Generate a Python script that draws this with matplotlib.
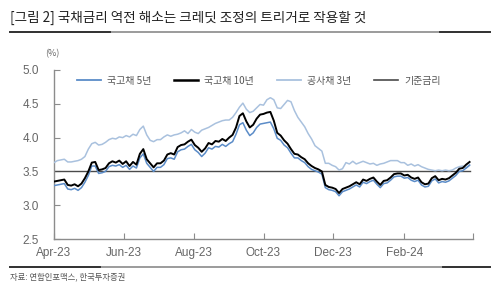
import matplotlib
matplotlib.use("Agg")
import matplotlib.pyplot as plt
from matplotlib.lines import Line2D
import pandas as pd

plt.rcParams['font.family'] = ['Noto Sans CJK KR', 'DejaVu Sans']

# ---- data (3-day sampling) ----
dates = pd.date_range('2023-04-01', periods=122, freq='3D')

ktb10 = [3.35, 3.36, 3.37, 3.38, 3.30, 3.29, 3.31, 3.28, 3.32, 3.40,
         3.50, 3.63, 3.64, 3.52, 3.53, 3.55, 3.62, 3.65, 3.63, 3.66,
         3.61, 3.65, 3.58, 3.64, 3.60, 3.76, 3.83, 3.68, 3.62, 3.56,
         3.62, 3.62, 3.66, 3.75, 3.77, 3.75, 3.86, 3.89, 3.90, 3.94,
         3.97, 3.89, 3.85, 3.79, 3.84, 3.92, 3.90, 3.95, 3.94, 3.98,
         3.95, 4.00, 4.04, 4.15, 4.32, 4.36, 4.24, 4.15, 4.19, 4.28,
         4.34, 4.35, 4.37, 4.38, 4.25, 4.07, 4.03, 3.96, 3.91, 3.83,
         3.76, 3.75, 3.71, 3.68, 3.62, 3.58, 3.55, 3.53, 3.50, 3.30,
         3.27, 3.26, 3.24, 3.18, 3.24, 3.26, 3.28, 3.31, 3.34, 3.31,
         3.38, 3.36, 3.39, 3.41, 3.35, 3.30, 3.36, 3.37, 3.41, 3.46,
         3.47, 3.47, 3.44, 3.45, 3.41, 3.39, 3.41, 3.34, 3.31, 3.32,
         3.40, 3.43, 3.37, 3.39, 3.38, 3.40, 3.44, 3.48, 3.54, 3.55,
         3.60, 3.64]

ktb5 = [3.29, 3.30, 3.31, 3.32, 3.24, 3.23, 3.25, 3.22, 3.26, 3.34,
        3.44, 3.58, 3.58, 3.47, 3.48, 3.50, 3.57, 3.59, 3.58, 3.60,
        3.56, 3.59, 3.53, 3.58, 3.55, 3.70, 3.76, 3.62, 3.56, 3.50,
        3.56, 3.56, 3.60, 3.69, 3.70, 3.68, 3.79, 3.82, 3.83, 3.87,
        3.90, 3.82, 3.78, 3.72, 3.77, 3.85, 3.83, 3.87, 3.86, 3.90,
        3.87, 3.91, 3.94, 4.05, 4.19, 4.22, 4.11, 4.03, 4.07, 4.15,
        4.20, 4.21, 4.22, 4.23, 4.13, 3.99, 3.96, 3.89, 3.85, 3.77,
        3.70, 3.70, 3.66, 3.63, 3.57, 3.53, 3.51, 3.49, 3.46, 3.26,
        3.23, 3.22, 3.20, 3.14, 3.20, 3.22, 3.24, 3.27, 3.30, 3.27,
        3.34, 3.32, 3.35, 3.37, 3.31, 3.26, 3.32, 3.33, 3.37, 3.42,
        3.43, 3.43, 3.40, 3.41, 3.37, 3.35, 3.37, 3.30, 3.27, 3.28,
        3.36, 3.39, 3.33, 3.35, 3.34, 3.36, 3.40, 3.44, 3.50, 3.51,
        3.55, 3.59]

kepco3 = [3.63, 3.66, 3.67, 3.68, 3.64, 3.64, 3.65, 3.66, 3.68, 3.72,
          3.83, 3.91, 3.93, 3.89, 3.90, 3.93, 3.97, 3.99, 3.98, 4.01,
          4.00, 4.03, 4.01, 4.05, 4.03, 4.12, 4.17, 4.04, 3.96, 3.94,
          3.97, 3.97, 4.01, 4.04, 4.02, 4.04, 4.05, 4.07, 4.10, 4.06,
          4.12, 4.08, 4.06, 4.11, 4.13, 4.15, 4.18, 4.21, 4.23, 4.25,
          4.26, 4.26, 4.30, 4.37, 4.45, 4.51, 4.42, 4.37, 4.39, 4.44,
          4.49, 4.48, 4.56, 4.59, 4.56, 4.44, 4.43, 4.49, 4.55, 4.53,
          4.40, 4.30, 4.23, 4.16, 4.06, 3.98, 3.88, 3.84, 3.80, 3.62,
          3.62, 3.59, 3.57, 3.52, 3.54, 3.63, 3.61, 3.65, 3.61, 3.63,
          3.65, 3.63, 3.61, 3.62, 3.59, 3.61, 3.62, 3.64, 3.66, 3.66,
          3.66, 3.63, 3.63, 3.59, 3.61, 3.58, 3.60, 3.57, 3.55, 3.53,
          3.52, 3.51, 3.52, 3.51, 3.52, 3.51, 3.52, 3.55, 3.57, 3.58,
          3.55, 3.60]

base_rate_level = 3.5
base_rate = [base_rate_level for _ in dates]

series_names = ['국고채 5년', '국고채 10년', '공사채 3년', '기준금리']
y_ticks = [2.5, 3.0, 3.5, 4.0, 4.5, 5.0]
x_tick_dates = ['2023-04-01', '2023-06-01', '2023-08-01', '2023-10-01',
                '2023-12-01', '2024-02-01', '2024-04-01']

title = '[그림 2] 국채금리 역전 해소는 크레딧 조정의 트리거로 작용할 것'
source = '자료: 연합인포맥스, 한국투자증권'

# ---- figure ----
fig = plt.figure(figsize=(5.0, 2.88), dpi=100)
ax = fig.add_axes([0.108, 0.170, 0.838, 0.587])

c5 = '#5b8cc8'
c10 = '#000000'
ck = '#a9c1de'
cb = '#4a4a4a'

ax.plot(dates, base_rate, color=cb, lw=1.0, zorder=2)
ax.plot(dates, kepco3, color=ck, lw=1.1, zorder=3)
ax.plot(dates, ktb5, color=c5, lw=1.1, zorder=4)
ax.plot(dates, ktb10, color=c10, lw=1.4, zorder=5)

ax.set_ylim(2.5, 5.0)
ax.set_yticks(y_ticks)
ax.set_yticklabels([f'{v:.1f}' for v in y_ticks])
ax.set_xlim(pd.Timestamp('2023-04-01'), pd.Timestamp('2024-04-01'))
xt = [pd.Timestamp(d) for d in x_tick_dates]
ax.set_xticks(xt)
ax.set_xticklabels([d.strftime('%b-%y') if i < len(xt) - 1 else '' for i, d in enumerate(xt)])

for s in ['top', 'right']:
    ax.spines[s].set_visible(False)
for s in ['left', 'bottom']:
    ax.spines[s].set_color('#8c8c8c')
    ax.spines[s].set_linewidth(1.0)

ax.tick_params(axis='both', direction='in', length=4, color='#8c8c8c',
               labelsize=8.5, labelcolor='#666666')
ax.tick_params(axis='y', pad=11)
ax.tick_params(axis='x', pad=6)
for lab in ax.get_xticklabels() + ax.get_yticklabels():
    lab.set_family(['Liberation Sans', 'DejaVu Sans'])

handles = [Line2D([], [], color=c5, lw=1.3),
           Line2D([], [], color=c10, lw=1.8),
           Line2D([], [], color=ck, lw=1.3),
           Line2D([], [], color=cb, lw=1.2)]
leg = ax.legend(handles, series_names, loc='upper left', ncol=4, frameon=False,
                fontsize=7.2, handlelength=2.4, handletextpad=0.6, columnspacing=2.3,
                bbox_to_anchor=(0.04, 1.0), borderaxespad=0.2)
for t in leg.get_texts():
    t.set_color('#555555')

fig.text(0.02, 0.9375, title, fontsize=9.8, color='#222222', va='center', ha='left')
fig.add_artist(Line2D([0.02, 0.98], [0.89, 0.89], color='#8a8a8a', lw=1.2, transform=fig.transFigure))
fig.add_artist(Line2D([0.02, 0.22], [0.89, 0.89], color='#333333', lw=1.4, transform=fig.transFigure))
fig.add_artist(Line2D([0.88, 0.98], [0.89, 0.89], color='#333333', lw=1.4, transform=fig.transFigure))

fig.text(0.104, 0.815, '(%)', fontsize=6.5, color='#666666', va='center', ha='center')

fig.add_artist(Line2D([0.02, 0.98], [0.073, 0.073], color='#8a8a8a', lw=1.2, transform=fig.transFigure))
fig.add_artist(Line2D([0.02, 0.20], [0.073, 0.073], color='#333333', lw=1.4, transform=fig.transFigure))
fig.add_artist(Line2D([0.885, 0.98], [0.073, 0.073], color='#333333', lw=1.4, transform=fig.transFigure))

fig.text(0.02, 0.04, source, fontsize=6, color='#555555', va='center', ha='left')

fig.savefig('out.png', dpi=100, facecolor='white')
